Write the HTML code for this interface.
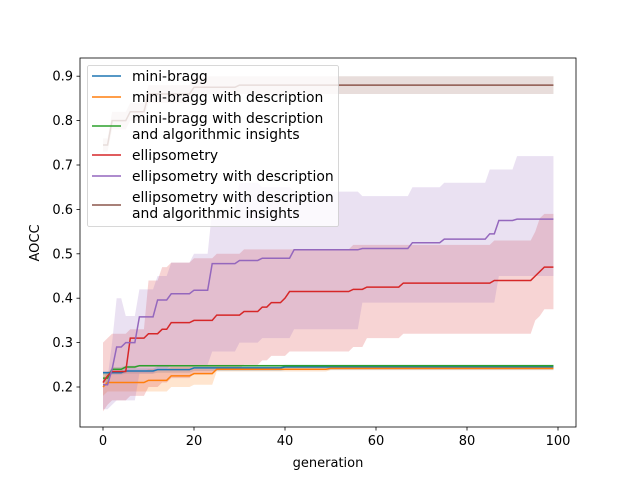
<!DOCTYPE html>
<html><head><meta charset="utf-8"><style>
body{margin:0;background:#fff;font-family:"Liberation Sans","DejaVu Sans",sans-serif}
svg text{font-family:"DejaVu Sans","Liberation Sans",sans-serif;font-size:13px;fill:#000}
svg text.lg{font-size:13.9px}
</style></head><body>
<svg id="chart" width="640" height="480" xmlns="http://www.w3.org/2000/svg">
<rect width="640" height="480" fill="#fff"/>
<g id="bands"></g><g id="lines"></g><g id="axes"></g><g id="legend"></g>
</svg>
<script>
// x: generation changepoints, values step-held until next changepoint
const blueGen=[0,5,12,20,40];      const blueMean=[0.232,0.236,0.239,0.243,0.245];
const blueLo=[0.228,0.23,0.232,0.236,0.238]; const blueHi=[0.236,0.242,0.246,0.249,0.25];
const orangeGen=[0,1,10,15,20,25,50]; const orangeMean=[0.2,0.21,0.215,0.225,0.23,0.24,0.242];
const orangeLo=[0.18,0.19,0.19,0.2,0.205,0.235,0.238]; const orangeHi=[0.22,0.235,0.24,0.245,0.245,0.245,0.246];
const greenGen=[0,2,5,8]; const greenMean=[0.22,0.24,0.245,0.248];
const greenLo=[0.21,0.235,0.242,0.246]; const greenHi=[0.23,0.245,0.248,0.25];
const redGen=[0,1,2,6,10,13,15,20,25,31,35,37,40,41,55,58,66,86,95,96,97];
const redMean=[0.21,0.225,0.235,0.31,0.32,0.33,0.345,0.35,0.362,0.37,0.38,0.39,0.4,0.415,0.42,0.425,0.434,0.44,0.45,0.46,0.47];
const redLo=[0.145,0.16,0.17,0.18,0.2,0.21,0.22,0.23,0.24,0.25,0.26,0.27,0.27,0.28,0.29,0.31,0.32,0.32,0.35,0.36,0.375];
const redHi=[0.3,0.31,0.32,0.33,0.44,0.47,0.48,0.49,0.5,0.51,0.51,0.51,0.51,0.51,0.52,0.52,0.52,0.53,0.55,0.58,0.59];
const purpleGen=[0,2,3,5,8,12,15,20,24,30,35,42,57,68,75,85,87,91];
const purpleMean=[0.205,0.24,0.29,0.3,0.358,0.396,0.41,0.418,0.478,0.485,0.49,0.509,0.512,0.525,0.533,0.545,0.575,0.578];
const purpleLo=[0.15,0.16,0.17,0.17,0.23,0.24,0.25,0.25,0.28,0.3,0.31,0.33,0.39,0.39,0.39,0.39,0.45,0.45];
const purpleHi=[0.22,0.3,0.4,0.36,0.42,0.45,0.48,0.5,0.6,0.66,0.65,0.64,0.63,0.65,0.66,0.69,0.69,0.72];
const brownGen=[0,2,6,10,20,30]; const brownMean=[0.745,0.8,0.82,0.86,0.875,0.88];
const brownLo=[0.73,0.78,0.8,0.84,0.86,0.86]; const brownHi=[0.76,0.82,0.84,0.88,0.9,0.9];
const seriesNames=["mini-bragg","mini-bragg with description","mini-bragg with description\nand algorithmic insights","ellipsometry","ellipsometry with description","ellipsometry with description\nand algorithmic insights"];
const seriesColors=["#1f77b4","#ff7f0e","#2ca02c","#d62728","#9467bd","#8c564b"];
const xTicks=[0,20,40,60,80,100];
const yTicks=[0.2,0.3,0.4,0.5,0.6,0.7,0.8,0.9];
const NS="http://www.w3.org/2000/svg";
const L=80,R=576,T=58,B=427;
const xs=g=>103+g*4.55;
const ys=v=>387-(v-0.2)*444;
function expand(gens,vals){const o=[];let k=0;for(let g=0;g<100;g++){while(k+1<gens.length&&gens[k+1]<=g)k++;o.push(vals[k]);}return o;}
function mk(tag,attrs,parent){const e=document.createElementNS(NS,tag);for(const a in attrs)e.setAttribute(a,attrs[a]);parent.appendChild(e);return e;}
const S=[[blueGen,blueMean,blueLo,blueHi],[orangeGen,orangeMean,orangeLo,orangeHi],[greenGen,greenMean,greenLo,greenHi],[redGen,redMean,redLo,redHi],[purpleGen,purpleMean,purpleLo,purpleHi],[brownGen,brownMean,brownLo,brownHi]];
const bands=document.getElementById('bands'),lines=document.getElementById('lines');
S.forEach((s,i)=>{
 const m=expand(s[0],s[1]),lo=expand(s[0],s[2]),hi=expand(s[0],s[3]);
 let p=[];for(let g=0;g<100;g++)p.push(xs(g)+','+ys(hi[g]));for(let g=99;g>=0;g--)p.push(xs(g)+','+ys(lo[g]));
 const b=mk('polygon',{points:p.join(' '),fill:seriesColors[i],'fill-opacity':0.2,stroke:'none'},bands);
 
 
 const ln=mk('polyline',{points:m.map((v,g)=>xs(g)+','+ys(v)).join(' '),fill:'none',stroke:seriesColors[i],'stroke-width':1.5},lines);
 
 
});
const ax=document.getElementById('axes');
const fr=mk('rect',{x:L,y:T,width:R-L,height:B-T,fill:'none',stroke:'#000','stroke-width':0.8},ax);


xTicks.forEach(t=>{mk('line',{x1:xs(t),x2:xs(t),y1:B,y2:B+3.5,stroke:'#000','stroke-width':0.8},ax);
 const tx=mk('text',{x:xs(t),y:B+18,'text-anchor':'middle'},ax);tx.textContent=t;
 
 });
yTicks.forEach(t=>{mk('line',{x1:L-3.5,x2:L,y1:ys(t),y2:ys(t),stroke:'#000','stroke-width':0.8},ax);
 const tx=mk('text',{x:L-7,y:ys(t)+4.5,'text-anchor':'end'},ax);tx.textContent=t.toFixed(1);
 
 });
const xl=mk('text',{x:328,y:467,'text-anchor':'middle'},ax);xl.textContent='generation';


const yl=mk('text',{x:0,y:0,'text-anchor':'middle',transform:'translate(39,243) rotate(-90)'},ax);yl.textContent='AOCC';


const lg=document.getElementById('legend');
const box=mk('rect',{x:87.5,y:65.5,width:251,height:161,rx:2,fill:'#fff','fill-opacity':0.8,stroke:'#ccc','stroke-width':0.8},lg);


const rowY=[76,97,126,155,176,205];
seriesNames.forEach((n,i)=>{
 const g=mk('g',{},lg);
 
 
 mk('line',{x1:92,x2:121,y1:rowY[i],y2:rowY[i],stroke:seriesColors[i],'stroke-width':1.5},g);
 const parts=n.split('\n');
 parts.forEach((p,j)=>{const t=mk('text',{x:132,y:rowY[i]+5-(parts.length-1)*8+j*16,'class':'lg'},g);t.textContent=p;});
});
</script>
</body></html>
